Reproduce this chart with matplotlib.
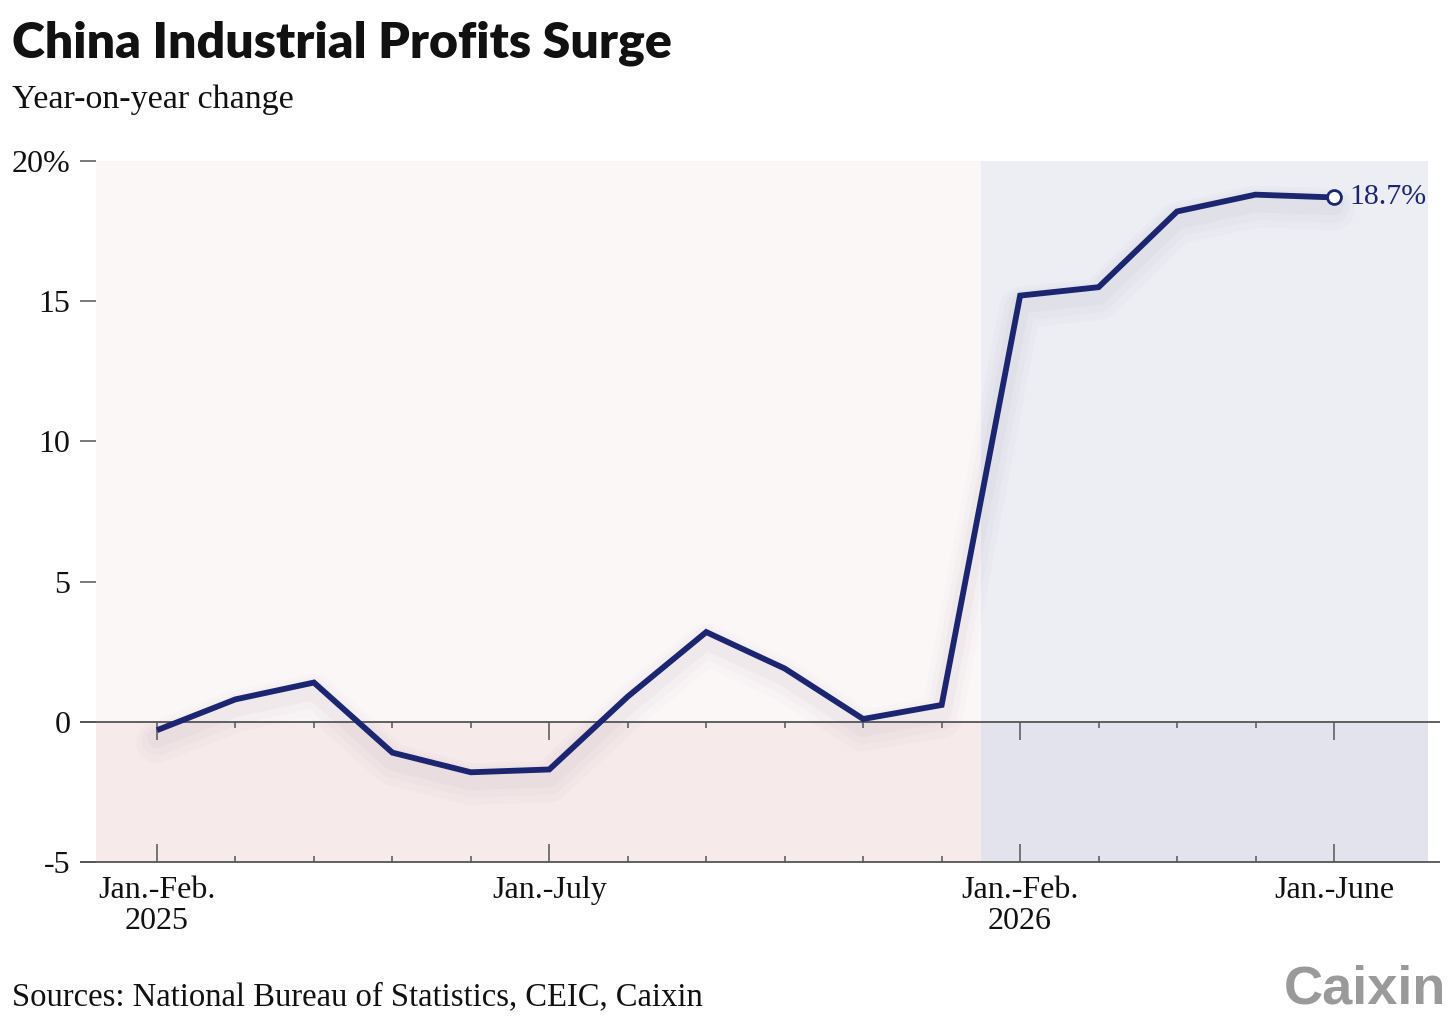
import matplotlib
matplotlib.use("Agg")
import matplotlib.pyplot as plt
import matplotlib.transforms as mtransforms

# ---- data ----
periods = ["Jan.-Feb.\n2025", "Jan.-Mar.", "Jan.-Apr.", "Jan.-May", "Jan.-June", "Jan.-July",
           "Jan.-Aug.", "Jan.-Sept.", "Jan.-Oct.", "Jan.-Nov.", "Jan.-Dec.",
           "Jan.-Feb.\n2026", "Jan.-Mar.", "Jan.-Apr.", "Jan.-May", "Jan.-June"]
values = [-0.3, 0.8, 1.4, -1.1, -1.8, -1.7, 0.9, 3.2, 1.9, 0.1, 0.6,
          15.2, 15.5, 18.2, 18.8, 18.7]
labeled_idx = [0, 5, 11, 15]
yticks = [-5, 0, 5, 10, 15, 20]
ytick_labels = ["-5", "0", "5", "10", "15", "20%"]
split_2026 = 10.5

SERIF = ["Liberation Serif", "DejaVu Serif"]
NAVY = "#1c2670"
AXC = "#555555"

fig = plt.figure(figsize=(14.56, 10.31), dpi=100)
fig.patch.set_facecolor("white")
ax = fig.add_axes([96/1456, 1 - 862/1031, (1428-96)/1456, (862-161)/1031])

x = list(range(len(values)))
xmin, xmax = -0.777, 16.198
ymin, ymax = -5, 20
ax.set_xlim(xmin, xmax)
ax.set_ylim(ymin, ymax)
zero_frac = (0 - ymin) / (ymax - ymin)

# background shading
ax.axvspan(xmin, split_2026, ymin=zero_frac, ymax=1, color="#fcf7f7", lw=0, zorder=0)
ax.axvspan(xmin, split_2026, ymin=0, ymax=zero_frac, color="#f6eaea", lw=0, zorder=0)
ax.axvspan(split_2026, xmax, ymin=zero_frac, ymax=1, color="#eceef4", lw=0, zorder=0)
ax.axvspan(split_2026, xmax, ymin=0, ymax=zero_frac, color="#e2e3ec", lw=0, zorder=0)

for s in ax.spines.values():
    s.set_visible(False)

# extended zero line and bottom line
for yf in [zero_frac, 0.0]:
    ax.plot([-0.012, 1.009], [yf, yf], transform=ax.transAxes,
            color=AXC, lw=1.3, clip_on=False, zorder=2, solid_capstyle="butt")

# soft shadow
for lw, a, dy in [(30, 0.02, -12), (22, 0.025, -10), (14, 0.03, -8)]:
    tr = mtransforms.offset_copy(ax.transData, fig=fig, x=0, y=dy, units="dots")
    ax.plot(x, values, color="#5a4a6a", lw=lw, alpha=a, transform=tr,
            solid_joinstyle="round", solid_capstyle="round", zorder=3)

ax.plot(x, values, color=NAVY, lw=4.2, zorder=5, solid_joinstyle="miter", solid_capstyle="butt")
ax.plot([x[-1]], [values[-1]], marker="o", ms=10, mfc="white", mec=NAVY, mew=2, zorder=6)
ax.annotate(f"{values[-1]}%", (x[-1], values[-1]), xytext=(11, 0), textcoords="offset points",
            va="center", ha="left", fontsize=21.5, color=NAVY, family=SERIF, zorder=7)

# y axis
ax.set_yticks(yticks)
ax.set_yticklabels(ytick_labels)
ax.tick_params(axis="y", direction="out", length=11.5, width=1.1, color=AXC, pad=7,
               labelsize=23, labelcolor="#111111")
for t in ax.get_yticklabels():
    t.set_family(SERIF)

# bottom x axis ticks (pointing up)
ax.set_xticks(labeled_idx)
ax.set_xticklabels([periods[i] for i in labeled_idx])
ax.set_xticks(x, minor=True)
ax.tick_params(axis="x", which="major", direction="in", length=13, width=1.1, color=AXC,
               pad=10, labelsize=23, labelcolor="#111111")
ax.tick_params(axis="x", which="minor", direction="in", length=4.5, width=1.1, color=AXC)
for t in ax.get_xticklabels():
    t.set_family(SERIF)
    t.set_linespacing(1.1)

# ticks hanging from the zero line
sec = ax.secondary_xaxis(zero_frac)
sec.set_xticks(labeled_idx)
sec.set_xticks(x, minor=True)
sec.set_xticklabels([])
sec.tick_params(axis="x", which="major", direction="out", length=13, width=1.1, color=AXC)
sec.tick_params(axis="x", which="minor", direction="out", length=4.5, width=1.1, color=AXC)
for s in sec.spines.values():
    s.set_visible(False)

# titles and footer
fig.text(12/1456, 1 - 58/1031, "China Industrial Profits Surge", fontsize=36, fontweight="heavy",
         family=["Lato", "DejaVu Sans"], color="#111111", ha="left", va="baseline")
fig.text(12/1456, 1 - 108/1031, "Year-on-year change", fontsize=24.5, family=SERIF,
         color="#111111", ha="left", va="baseline")
fig.text(12/1456, 1 - 1005/1031, "Sources: National Bureau of Statistics, CEIC, Caixin",
         fontsize=23.5, family=SERIF, color="#111111", ha="left", va="baseline")
fig.text(1446/1456, 1 - 1004/1031, "Caixin", fontsize=39, fontweight="bold",
         family=["Liberation Sans", "DejaVu Sans"], color="#9a9a9a", ha="right", va="baseline")

fig.savefig("out.png", dpi=100, facecolor="white")
